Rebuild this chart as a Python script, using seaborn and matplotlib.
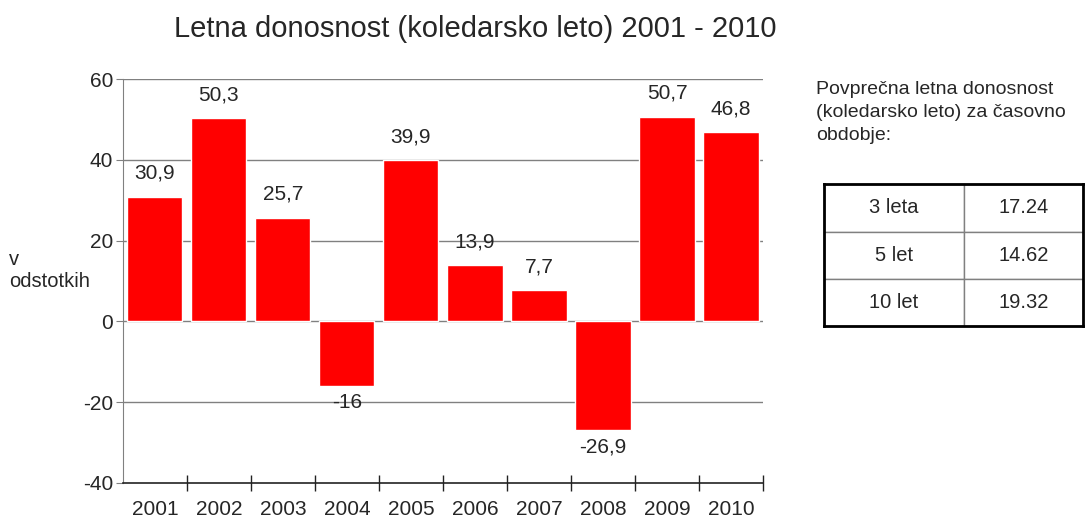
import matplotlib
matplotlib.use('Agg')
import matplotlib.pyplot as plt
import seaborn as sns
import pandas as pd
from matplotlib.ticker import FixedLocator

# Data
years = ['2001', '2002', '2003', '2004', '2005', '2006', '2007', '2008', '2009', '2010']
returns = [30.9, 50.3, 25.7, -16, 39.9, 13.9, 7.7, -26.9, 50.7, 46.8]
return_labels = ['30,9', '50,3', '25,7', '-16', '39,9', '13,9', '7,7', '-26,9', '50,7', '46,8']
periods = ['3 leta', '5 let', '10 let']
avg_returns = ['17.24', '14.62', '19.32']

df = pd.DataFrame({'year': years, 'ret': returns})

sns.set_style('white')
plt.rcParams['font.family'] = ['Liberation Sans', 'DejaVu Sans']

fig = plt.figure(figsize=(10.9, 5.25), dpi=100)
ax = fig.add_axes([0.1128, 0.08, 0.5872, 0.7695])

sns.barplot(data=df, x='year', y='ret', color='#ff0000', saturation=1,
            width=0.86, ax=ax)

ax.set_ylim(-40, 60)
ax.set_xlim(-0.5, 9.5)
ax.set_yticks([-40, -20, 0, 20, 40, 60])
ax.set_yticklabels(['-40', '-20', '0', '20', '40', '60'], fontsize=15)
ax.set_xticks(range(len(years)))
ax.set_xticklabels(years, fontsize=15)
ax.tick_params(axis='x', which='both', bottom=True)
ax.tick_params(axis='x', which='major', length=0, pad=12)
ax.xaxis.set_minor_locator(FixedLocator([i + 0.5 for i in range(len(years))]))
ax.tick_params(axis='x', which='minor', length=12, direction='inout', color='#222222', width=1)
ax.tick_params(axis='y', left=True, length=5, color='#808080', pad=2)
ax.set_xlabel('')
ax.set_ylabel('')

for y in [-20, 0, 20, 40, 60]:
    ax.axhline(y, color='#808080', lw=1, zorder=0)
ax.set_axisbelow(True)

for s in ['top', 'right']:
    ax.spines[s].set_visible(False)
ax.spines['left'].set_color('#808080')
ax.spines['bottom'].set_color('#222222')
ax.spines['bottom'].set_linewidth(1.2)

for i, (v, lab) in enumerate(zip(returns, return_labels)):
    if v >= 0:
        ax.annotate(lab, (i, v), xytext=(0, 10), textcoords='offset points',
                    ha='center', va='bottom', fontsize=15)
    else:
        ax.annotate(lab, (i, v), xytext=(0, -5), textcoords='offset points',
                    ha='center', va='top', fontsize=15)

fig.text(0.436, 0.945, 'Letna donosnost (koledarsko leto) 2001 - 2010',
         ha='center', va='center', fontsize=21)
fig.text(0.008, 0.484, 'v\nodstotkih', ha='left', va='center', fontsize=14.5,
         linespacing=1.2)
fig.text(0.749, 0.845, 'Povprečna letna donosnost\n(koledarsko leto) za časovno\nobdobje:',
         ha='left', va='top', fontsize=14, linespacing=1.45)

# table on the right
tab_ax = fig.add_axes([0.756, 0.379, 0.238, 0.27])
tab = tab_ax.table(cellText=[[p, a] for p, a in zip(periods, avg_returns)],
                   cellLoc='center', bbox=[0, 0, 1, 1], colWidths=[0.54, 0.46])
tab.auto_set_font_size(False)
tab.set_fontsize(14.5)
for (r, c), cell in tab.get_celld().items():
    cell.set_edgecolor('#808080')
    cell.set_linewidth(1)
tab_ax.set_xticks([])
tab_ax.set_yticks([])
tab_ax.patch.set_alpha(0)
for s in tab_ax.spines.values():
    s.set_visible(True)
    s.set_color('black')
    s.set_linewidth(2)
tab_ax.set_zorder(3)

fig.savefig('out.png', dpi=100)
